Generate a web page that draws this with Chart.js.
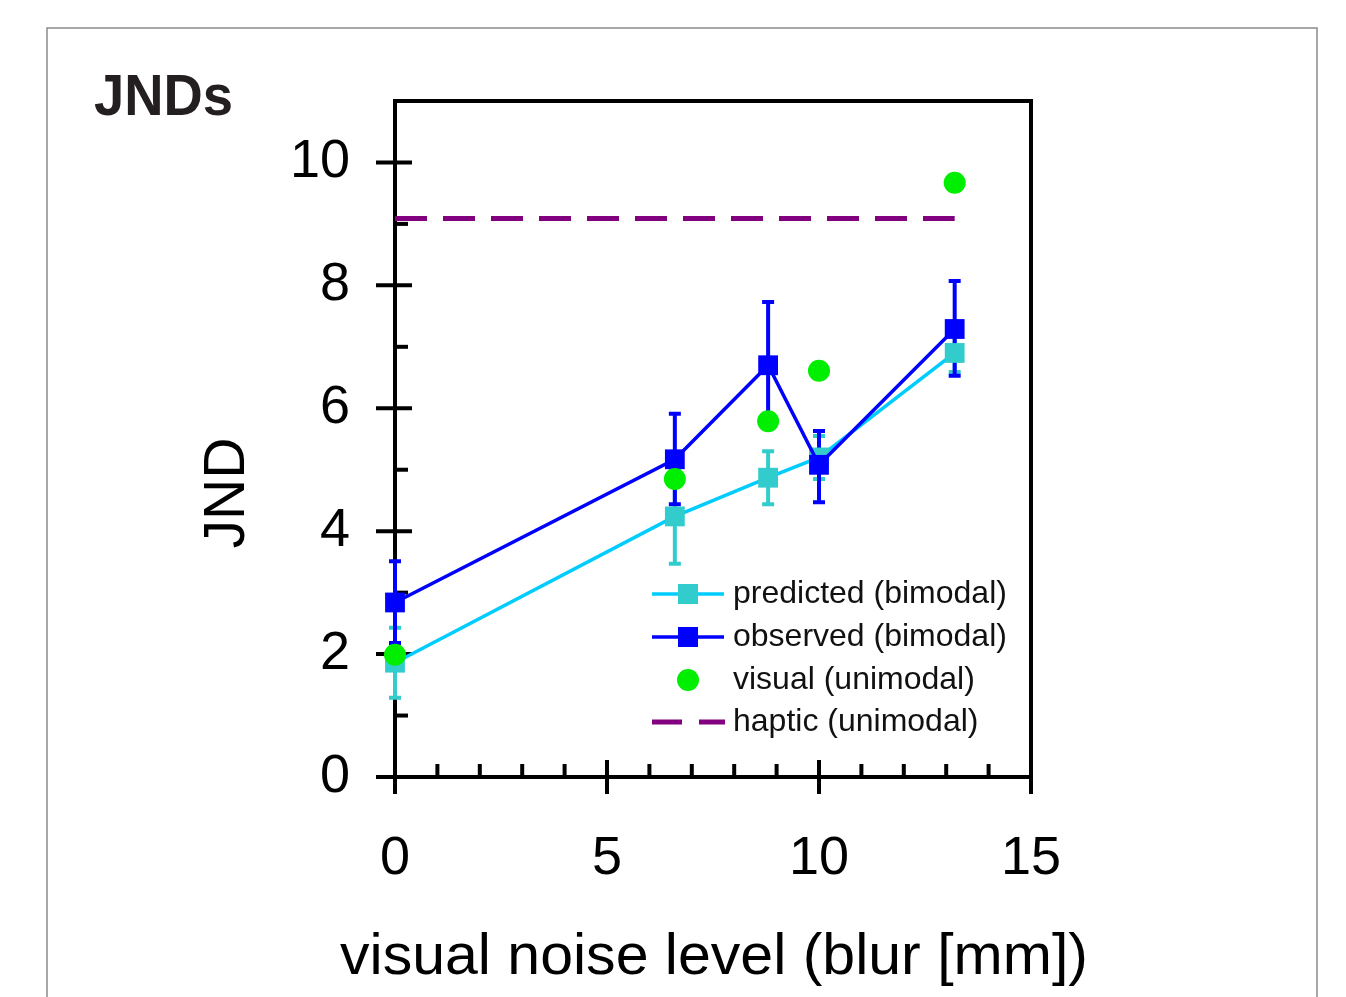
<!DOCTYPE html>
<html>
<head>
<meta charset="utf-8">
<script src="https://cdn.jsdelivr.net/npm/chart.js@4.4.0/dist/chart.umd.min.js"></script>
<style>
  html, body { margin: 0; padding: 0; background: #fff; }
  #wrap { width: 1346px; height: 997px; }
</style>
</head>
<body>
<div id="wrap"><canvas id="jndChart" width="1346" height="997"></canvas></div>
<script>
// values
const noiseLevels = [0, 6.6, 8.8, 10, 13.2];
const predicted = [1.86, 4.24, 4.87, 5.2, 6.9];
const predictedLow = [1.29, 3.47, 4.44, 4.85, 6.59];
const predictedHigh = [2.43, 5.01, 5.30, 5.55, 7.2];
const observed = [2.84, 5.17, 6.70, 5.08, 7.29];
const observedLow = [2.18, 4.44, 5.70, 4.47, 6.53];
const observedHigh = [3.51, 5.91, 7.73, 5.63, 8.07];
const visual = [1.99, 4.85, 5.79, 6.61, 9.67];
const hapticX = [0, 13.2];
const hapticJND = [9.09, 9.09];
const xTicks = [0, 5, 10, 15];
const yTicks = [0, 2, 4, 6, 8, 10];

const FONT = 'Liberation Sans, Arial, Helvetica, sans-serif';

function toPoints(xs, ys) {
    return xs.map((x, i) => ({ x: x, y: ys[i] }));
}

// gray frame around the figure
const framePlugin = {
    id: 'frame',
    beforeDraw(chart) {
        const ctx = chart.ctx;
        ctx.save();
        ctx.strokeStyle = '#8a8a8a';
        ctx.lineWidth = 1.5;
        ctx.strokeRect(47, 28, 1270, 1000);
        ctx.restore();
    }
};

// plot box, tick marks and error bars (under the data)
const axesPlugin = {
    id: 'axesBox',
    beforeDatasetsDraw(chart) {
        const ctx = chart.ctx;
        const a = chart.chartArea;
        const xs = chart.scales.x;
        const ys = chart.scales.y;
        ctx.save();
        ctx.strokeStyle = '#000';
        ctx.lineWidth = 4;
        ctx.strokeRect(a.left, a.top, a.right - a.left, a.bottom - a.top);

        // x ticks: major cross the axis, minor inside
        for (let v = 0; v <= 15; v++) {
            const px = xs.getPixelForValue(v);
            ctx.beginPath();
            if (v % 5 === 0) {
                ctx.moveTo(px, a.bottom - 17);
                ctx.lineTo(px, a.bottom + 17);
            } else {
                ctx.moveTo(px, a.bottom - 13);
                ctx.lineTo(px, a.bottom);
            }
            ctx.stroke();
        }
        // y ticks
        for (let v = 0; v <= 10; v++) {
            const py = ys.getPixelForValue(v);
            ctx.beginPath();
            if (v % 2 === 0) {
                ctx.moveTo(a.left - 19, py);
                ctx.lineTo(a.left + 17, py);
            } else {
                ctx.moveTo(a.left, py);
                ctx.lineTo(a.left + 13, py);
            }
            ctx.stroke();
        }

        // error bars
        const drawBars = (lows, highs, color) => {
            ctx.strokeStyle = color;
            ctx.lineWidth = 4;
            noiseLevels.forEach((x, i) => {
                const px = xs.getPixelForValue(x);
                const lo = ys.getPixelForValue(lows[i]);
                const hi = ys.getPixelForValue(highs[i]);
                ctx.beginPath();
                ctx.moveTo(px, lo);
                ctx.lineTo(px, hi);
                ctx.moveTo(px - 6, lo);
                ctx.lineTo(px + 6, lo);
                ctx.moveTo(px - 6, hi);
                ctx.lineTo(px + 6, hi);
                ctx.stroke();
            });
        };
        drawBars(predictedLow, predictedHigh, '#33cccc');
        drawBars(observedLow, observedHigh, '#0000ff');
        ctx.restore();
    }
};

// titles and the legend
const textPlugin = {
    id: 'texts',
    afterDraw(chart) {
        const ctx = chart.ctx;
        ctx.save();
        ctx.fillStyle = '#231f20';
        ctx.textBaseline = 'alphabetic';
        ctx.textAlign = 'left';

        // "JNDs"
        ctx.font = 'bold 58px ' + FONT;
        const tw = ctx.measureText('JNDs').width;
        ctx.save();
        ctx.translate(94, 115);
        ctx.scale(139 / tw, 1);
        ctx.fillText('JNDs', 0, 0);
        ctx.restore();

        // x axis title
        ctx.fillStyle = '#000';
        ctx.font = '58px ' + FONT;
        const xt = 'visual noise level (blur [mm])';
        const xw = ctx.measureText(xt).width;
        ctx.save();
        ctx.translate(714, 974);
        ctx.scale(748 / xw, 1);
        ctx.textAlign = 'center';
        ctx.fillText(xt, 0, 0);
        ctx.restore();

        // y axis title
        ctx.save();
        ctx.font = '57px ' + FONT;
        ctx.translate(228, 493);
        ctx.rotate(-Math.PI / 2);
        ctx.textAlign = 'center';
        ctx.textBaseline = 'middle';
        ctx.fillText('JND', 0, 0);
        ctx.restore();

        // legend
        const rows = [594, 637, 680, 722];
        const ds = chart.data.datasets;
        ctx.font = '32px ' + FONT;
        ctx.textBaseline = 'middle';
        ds.forEach((d, i) => {
            const y = rows[i];
            ctx.strokeStyle = d.borderColor;
            if (d.showLine !== false) {
                ctx.lineWidth = d.borderWidth;
                ctx.beginPath();
                if (d.borderDash) {
                    ctx.moveTo(652, y); ctx.lineTo(682, y);
                    ctx.moveTo(699, y); ctx.lineTo(725, y);
                } else {
                    ctx.moveTo(652, y); ctx.lineTo(724, y);
                }
                ctx.stroke();
            }
            if (d.pointRadius > 0) {
                ctx.fillStyle = d.pointBackgroundColor;
                if (d.pointStyle === 'rect') {
                    ctx.fillRect(678, y - 10, 20, 20);
                } else {
                    ctx.beginPath();
                    ctx.arc(688, y, 11, 0, Math.PI * 2);
                    ctx.fill();
                }
            }
            ctx.fillStyle = '#111';
            ctx.fillText(d.label, 733, y);
        });
        ctx.restore();
    }
};

const ctx = document.getElementById('jndChart').getContext('2d');
new Chart(ctx, {
    type: 'line',
    data: {
        datasets: [
            {
                label: 'predicted (bimodal)',
                data: toPoints(noiseLevels, predicted),
                borderColor: '#00ccff',
                borderWidth: 3.5,
                pointStyle: 'rect',
                pointRadius: 14,
                pointBackgroundColor: '#33cccc',
                pointBorderColor: '#33cccc',
                pointBorderWidth: 0,
                clip: false,
                order: 2
            },
            {
                label: 'observed (bimodal)',
                data: toPoints(noiseLevels, observed),
                borderColor: '#0000ff',
                borderWidth: 3.5,
                pointStyle: 'rect',
                pointRadius: 14,
                pointBackgroundColor: '#0000ff',
                pointBorderColor: '#0000ff',
                pointBorderWidth: 0,
                clip: false,
                order: 1
            },
            {
                label: 'visual (unimodal)',
                data: toPoints(noiseLevels, visual),
                showLine: false,
                borderColor: '#00ee00',
                pointStyle: 'circle',
                pointRadius: 11,
                pointBackgroundColor: '#00ee00',
                pointBorderWidth: 0,
                clip: false,
                order: 0
            },
            {
                label: 'haptic (unimodal)',
                data: toPoints(hapticX, hapticJND),
                borderColor: '#800080',
                borderWidth: 5,
                borderDash: [32, 16],
                pointRadius: 0,
                clip: false,
                order: 3
            }
        ]
    },
    options: {
        responsive: false,
        animation: false,
        layout: { padding: { top: 101, right: 315, left: 0, bottom: 0 } },
        plugins: {
            legend: { display: false },
            tooltip: { enabled: false }
        },
        scales: {
            x: {
                type: 'linear',
                min: 0,
                max: 15,
                afterBuildTicks: scale => { scale.ticks = xTicks.map(v => ({ value: v })); },
                afterFit: scale => { scale.height = 220; },
                grid: { display: false, drawTicks: false },
                border: { display: false },
                ticks: {
                    padding: 50,
                    maxRotation: 0,
                    color: '#000',
                    font: { family: FONT, size: 54 }
                }
            },
            y: {
                min: 0,
                max: 11,
                afterBuildTicks: scale => { scale.ticks = yTicks.map(v => ({ value: v })); },
                afterFit: scale => { scale.width = 395; },
                grid: { display: false, drawTicks: false },
                border: { display: false },
                ticks: {
                    padding: 45,
                    color: '#000',
                    font: { family: FONT, size: 54 }
                }
            }
        }
    },
    plugins: [framePlugin, axesPlugin, textPlugin]
});
</script>
</body>
</html>
